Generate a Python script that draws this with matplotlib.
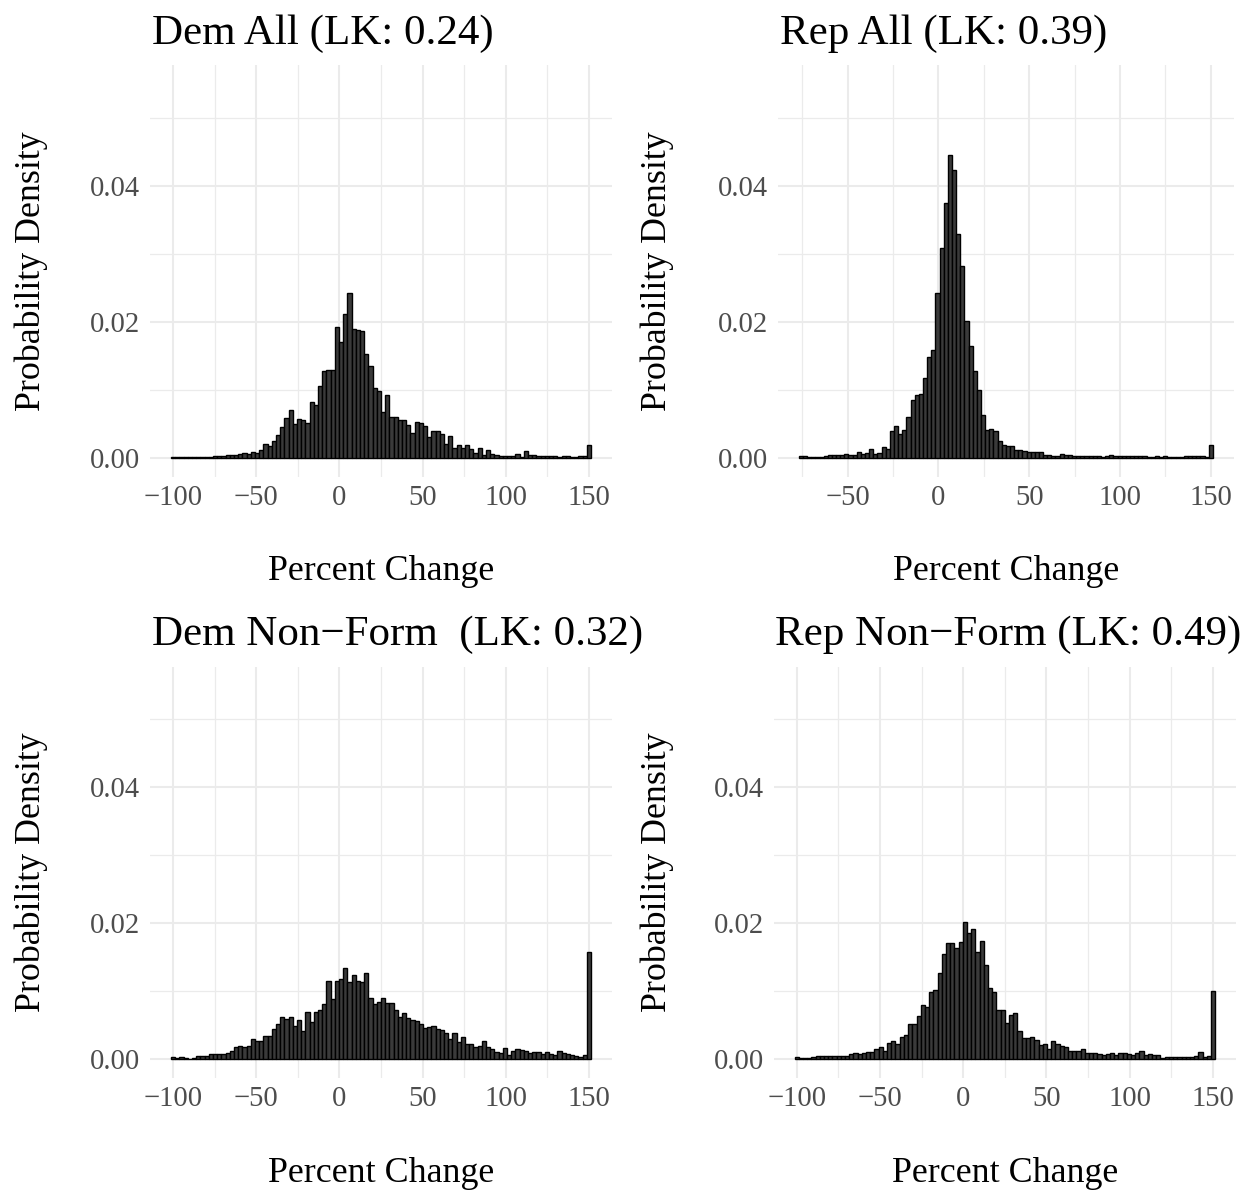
import matplotlib
matplotlib.use("Agg")
import matplotlib.pyplot as plt
import numpy as np
from matplotlib.ticker import MultipleLocator, FixedLocator

plt.rcParams['font.family'] = ['Liberation Serif', 'DejaVu Serif']
plt.rcParams['axes.unicode_minus'] = True

# ---------------- data (density per bin, 100 bins from min to max) ----------------
titles = ["Dem All (LK: 0.24)", "Rep All (LK: 0.39)",
          "Dem Non\u2212Form  (LK: 0.32)", "Rep Non\u2212Form (LK: 0.49)"]

dem_all_range = (-100.0, 150.0)
dem_all = [0.00020, 0.00015, 0.00010, 0.00015, 0.00010, 0.00015, 0.00020, 0.00020, 0.00020, 0.00020,
           0.00025, 0.00025, 0.00035, 0.00044, 0.00040, 0.00049, 0.00054, 0.00074, 0.00064, 0.00094,
           0.00074, 0.00123, 0.00202, 0.00173, 0.00247, 0.00336, 0.00459, 0.00583, 0.00706, 0.00494,
           0.00573, 0.00558, 0.00519, 0.00825, 0.00775, 0.01062, 0.01284, 0.01299, 0.01299, 0.01926,
           0.01704, 0.02114, 0.02430, 0.01891, 0.01877, 0.01867, 0.01531, 0.01348, 0.01027, 0.00988,
           0.00681, 0.00923, 0.00607, 0.00602, 0.00553, 0.00558, 0.00484, 0.00370, 0.00533, 0.00514,
           0.00469, 0.00311, 0.00395, 0.00390, 0.00360, 0.00212, 0.00326, 0.00153, 0.00198, 0.00153,
           0.00188, 0.00133, 0.00074, 0.00143, 0.00049, 0.00119, 0.00059, 0.00049, 0.00030, 0.00030,
           0.00035, 0.00030, 0.00054, 0.00020, 0.00109, 0.00049, 0.00040, 0.00030, 0.00030, 0.00030,
           0.00030, 0.00025, 0.00020, 0.00025, 0.00025, 0.00020, 0.00020, 0.00025, 0.00025, 0.00198]

rep_all_range = (-75.7, 150.0)
rep_all = [0.00025, 0.00025, 0.00020, 0.00015, 0.00010, 0.00015, 0.00025, 0.00039, 0.00044, 0.00039,
           0.00044, 0.00054, 0.00044, 0.00049, 0.00084, 0.00064, 0.00079, 0.00128, 0.00059, 0.00074,
           0.00162, 0.00138, 0.00398, 0.00477, 0.00354, 0.00413, 0.00604, 0.00860, 0.00924, 0.00934,
           0.01179, 0.01484, 0.01592, 0.02428, 0.03091, 0.03749, 0.04457, 0.04236, 0.03292, 0.02821,
           0.02010, 0.01646, 0.01283, 0.01007, 0.00639, 0.00408, 0.00432, 0.00393, 0.00256, 0.00197,
           0.00172, 0.00182, 0.00123, 0.00123, 0.00098, 0.00084, 0.00084, 0.00084, 0.00084, 0.00044,
           0.00044, 0.00034, 0.00029, 0.00054, 0.00044, 0.00049, 0.00034, 0.00034, 0.00029, 0.00029,
           0.00034, 0.00034, 0.00025, 0.00020, 0.00034, 0.00039, 0.00034, 0.00034, 0.00029, 0.00029,
           0.00034, 0.00034, 0.00029, 0.00029, 0.00020, 0.00020, 0.00025, 0.00020, 0.00025, 0.00020,
           0.00020, 0.00020, 0.00020, 0.00025, 0.00025, 0.00025, 0.00025, 0.00025, 0.00020, 0.00187]

dem_nonform_range = (-100.0, 150.0)
dem_nonform = [0.00029, 0.00015, 0.00039, 0.00025, 0.00010, 0.00015, 0.00049, 0.00044, 0.00054, 0.00078,
               0.00083, 0.00083, 0.00083, 0.00088, 0.00118, 0.00176, 0.00191, 0.00186, 0.00196, 0.00294,
               0.00270, 0.00265, 0.00338, 0.00343, 0.00451, 0.00515, 0.00627, 0.00593, 0.00623, 0.00495,
               0.00574, 0.00422, 0.00696, 0.00554, 0.00696, 0.00725, 0.00814, 0.01157, 0.00882, 0.01152,
               0.01181, 0.01343, 0.01132, 0.01235, 0.01157, 0.01132, 0.01265, 0.00897, 0.00819, 0.00838,
               0.00907, 0.00824, 0.00828, 0.00725, 0.00627, 0.00686, 0.00603, 0.00578, 0.00564, 0.00520,
               0.00456, 0.00480, 0.00490, 0.00441, 0.00426, 0.00392, 0.00304, 0.00392, 0.00250, 0.00324,
               0.00230, 0.00225, 0.00186, 0.00201, 0.00270, 0.00186, 0.00147, 0.00108, 0.00088, 0.00162,
               0.00064, 0.00123, 0.00147, 0.00137, 0.00127, 0.00098, 0.00103, 0.00103, 0.00074, 0.00103,
               0.00074, 0.00064, 0.00118, 0.00098, 0.00078, 0.00064, 0.00049, 0.00029, 0.00064, 0.01583]

rep_nonform_range = (-100.0, 150.0)
rep_nonform = [0.00034, 0.00025, 0.00020, 0.00025, 0.00034, 0.00054, 0.00044, 0.00044, 0.00044, 0.00054,
               0.00054, 0.00054, 0.00049, 0.00074, 0.00093, 0.00084, 0.00093, 0.00103, 0.00108, 0.00152,
               0.00182, 0.00128, 0.00246, 0.00265, 0.00221, 0.00334, 0.00359, 0.00516, 0.00526, 0.00634,
               0.00801, 0.00772, 0.00983, 0.01017, 0.01273, 0.01543, 0.01715, 0.01715, 0.01641, 0.01730,
               0.02025, 0.01862, 0.01912, 0.01572, 0.01740, 0.01386, 0.01052, 0.00993, 0.00727, 0.00722,
               0.00541, 0.00654, 0.00683, 0.00418, 0.00310, 0.00319, 0.00329, 0.00290, 0.00216, 0.00231,
               0.00157, 0.00275, 0.00231, 0.00197, 0.00177, 0.00123, 0.00118, 0.00123, 0.00152, 0.00088,
               0.00093, 0.00093, 0.00084, 0.00059, 0.00074, 0.00098, 0.00064, 0.00088, 0.00088, 0.00084,
               0.00069, 0.00098, 0.00128, 0.00059, 0.00074, 0.00064, 0.00064, 0.00025, 0.00029, 0.00039,
               0.00039, 0.00034, 0.00034, 0.00034, 0.00029, 0.00044, 0.00108, 0.00029, 0.00054, 0.01007]

x_ticks_full = [-100, -50, 0, 50, 100, 150]
x_ticks_rep_all = [-50, 0, 50, 100, 150]
y_ticks = [0.00, 0.02, 0.04]
y_tick_labels = ["0.00", "0.02", "0.04"]
y_limits = (0.0, 0.055)

panels = [
    (titles[0], dem_all, dem_all_range, x_ticks_full),
    (titles[1], rep_all, rep_all_range, x_ticks_rep_all),
    (titles[2], dem_nonform, dem_nonform_range, x_ticks_full),
    (titles[3], rep_nonform, rep_nonform_range, x_ticks_full),
]

# ---------------- layout (pixel-derived axes rectangles) ----------------
W, H = 1252, 1193
fig = plt.figure(figsize=(W / 100, H / 100), dpi=100)
rects_px = [  # left, top, right, bottom in pixels
    (150.0, 65.3, 612.0, 476.7),
    (778.1, 65.3, 1233.5, 476.7),
    (150.0, 666.6, 612.0, 1078.0),
    (773.5, 666.6, 1236.2, 1078.0),
]
ylabel_x_px = [31, 657, 31, 657]
xlabel_y_px = [572, 572, 1173, 1173]

base = 25.8
grid_col = "#EBEBEB"

for k, (title, dens, rng, xt) in enumerate(panels):
    l, t, r, b = rects_px[k]
    ax = fig.add_axes([l / W, 1 - b / H, (r - l) / W, (b - t) / H])
    n = len(dens)
    lo, hi = rng
    w = (hi - lo) / (n - 1)
    centers = lo + w * np.arange(n)
    ax.bar(centers, dens, width=w, color="#3a3a3a", edgecolor="black",
           linewidth=1.0, zorder=3)
    xmin, xmax = lo - w / 2, hi + w / 2
    pad = 0.05 * (xmax - xmin)
    ax.set_xlim(xmin - pad, xmax + pad)
    ypad = 0.05 * (y_limits[1] - y_limits[0])
    ax.set_ylim(y_limits[0] - ypad, y_limits[1] + ypad)

    ax.xaxis.set_major_locator(FixedLocator(xt))
    ax.xaxis.set_minor_locator(MultipleLocator(25))
    ax.set_yticks(y_ticks)
    ax.set_yticklabels(y_tick_labels)
    ax.yaxis.set_minor_locator(FixedLocator([0.01, 0.03, 0.05]))
    ax.set_xticklabels([("\u2212" if v < 0 else "") + str(abs(v)) for v in xt])

    ax.grid(which="major", color=grid_col, linewidth=1.5, zorder=0)
    ax.grid(which="minor", color=grid_col, linewidth=0.9, zorder=0)
    ax.set_axisbelow(True)
    for s in ax.spines.values():
        s.set_visible(False)
    ax.tick_params(which="both", length=0)
    ax.tick_params(axis="x", labelsize=20.6, labelcolor="#4D4D4D", pad=6)
    ax.tick_params(axis="y", labelsize=20.6, labelcolor="#4D4D4D", pad=7)

    ax.set_xlabel("Percent Change", fontsize=base, color="black")
    ax.xaxis.label.set_va("center")
    ax.xaxis.set_label_coords(0.5, (b - xlabel_y_px[k]) / (b - t))
    ax.set_ylabel("Probability Density", fontsize=base, color="black")
    ax.yaxis.label.set_va("center")
    ax.yaxis.set_label_coords((ylabel_x_px[k] - l) / (r - l), 0.5)

    ax.text(0.004, 1.053, title, transform=ax.transAxes, ha="left", va="baseline",
            fontsize=31.0, color="black")

fig.savefig("out.png", dpi=100, facecolor="white")
